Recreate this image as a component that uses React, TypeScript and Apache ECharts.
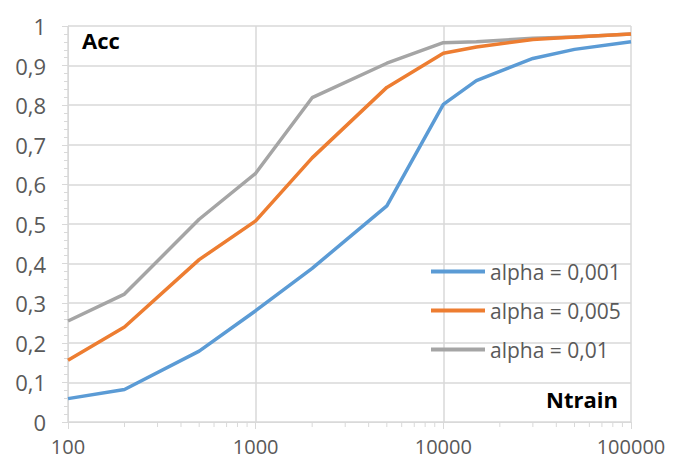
import React, { useEffect, useRef } from "react";
import * as echarts from "echarts";

const nTrain = [100, 200, 500, 1000, 2000, 5000, 10000, 15000, 30000, 50000, 100000];
const acc001 = [0.059, 0.082, 0.179, 0.281, 0.388, 0.546, 0.802, 0.862, 0.918, 0.941, 0.96];
const acc005 = [0.156, 0.24, 0.41, 0.508, 0.667, 0.845, 0.931, 0.947, 0.966, 0.972, 0.98];
const acc01 = [0.255, 0.323, 0.512, 0.628, 0.819, 0.906, 0.958, 0.96, 0.969, 0.972, 0.98];
const seriesNames = ["alpha = 0,001", "alpha = 0,005", "alpha = 0,01"];
const seriesColors = ["#5B9BD5", "#ED7D31", "#A5A5A5"];
const minorXTicks = [
  200, 300, 400, 500, 600, 700, 800, 900,
  2000, 3000, 4000, 5000, 6000, 7000, 8000, 9000,
  20000, 30000, 40000, 50000, 60000, 70000, 80000, 90000,
];

const FONT = "'Open Sans', sans-serif";
const GRIDC = "#d9d9d9";
const TEXTC = "#595959";

export default function App() {
  const ref = useRef<HTMLDivElement>(null);
  useEffect(() => {
    if (!ref.current) return;
    const chart = echarts.init(ref.current, null, { renderer: "svg" });
    const allSeries = [acc001, acc005, acc01];
    chart.setOption({
      animation: false,
      backgroundColor: "#ffffff",
      textStyle: { fontFamily: FONT },
      grid: { left: 68, right: 43, top: 26, bottom: 38 },
      legend: {
        data: seriesNames,
        orient: "vertical",
        left: 431,
        top: 261,
        padding: 0,
        icon: "rect",
        itemWidth: 54,
        itemHeight: 4,
        itemGap: 18,
        textStyle: { fontFamily: FONT, fontSize: 21, color: TEXTC, lineHeight: 21 },
      },
      xAxis: {
        type: "log",
        logBase: 10,
        min: 100,
        max: 100000,
        axisLine: { show: true, lineStyle: { color: GRIDC, width: 1 } },
        axisTick: { show: true, length: 7, lineStyle: { color: GRIDC } },
        splitLine: { show: true, lineStyle: { color: GRIDC, width: 1.5 } },
        axisLabel: {
          color: TEXTC,
          fontSize: 20,
          lineHeight: 20,
          fontFamily: FONT,
          margin: 14,
          formatter: (v: number) => String(Math.round(v)),
        },
      },
      yAxis: {
        type: "value",
        min: 0,
        max: 1,
        interval: 0.1,
        axisLine: { show: true, lineStyle: { color: GRIDC, width: 1 } },
        axisTick: { show: true, length: 6, lineStyle: { color: GRIDC } },
        minorTick: { show: true, splitNumber: 5, length: 4, lineStyle: { color: GRIDC } },
        splitLine: { show: true, lineStyle: { color: GRIDC, width: 1.5 } },
        axisLabel: {
          color: TEXTC,
          fontSize: 22,
          fontFamily: FONT,
          margin: 22,
          formatter: (v: number) => String(+v.toFixed(1)).replace(".", ","),
        },
      },
      series: [
        ...allSeries.map((arr, i) => ({
          name: seriesNames[i],
          type: "line",
          symbol: "none",
          lineStyle: { width: 3.5, color: seriesColors[i] },
          itemStyle: { color: seriesColors[i] },
          data: nTrain.map((x, j) => [x, arr[j]]),
          z: 3 + (2 - i),
        })),
        {
          type: "custom",
          name: "minorTicks",
          silent: true,
          clip: false,
          data: minorXTicks.map((v) => [v, 0]),
          renderItem: (params: any, api: any) => {
            const p = api.coord([api.value(0), 0]);
            return {
              type: "line",
              shape: { x1: p[0], y1: p[1], x2: p[0], y2: p[1] + 5 },
              style: { stroke: GRIDC, lineWidth: 1 },
            };
          },
        },
      ],
      graphic: [
        {
          type: "text",
          left: 82,
          top: 29,
          style: { text: "Acc", fontFamily: FONT, fontSize: 22, fontWeight: "bold", fill: "#000" },
        },
        {
          type: "text",
          right: 56,
          top: 388,
          style: { text: "Ntrain", fontFamily: FONT, fontSize: 22, fontWeight: "bold", fill: "#000" },
        },
      ],
    });
    return () => chart.dispose();
  }, []);
  return (
    <div
      ref={ref}
      style={{ position: "fixed", left: 0, top: 0, width: 674, height: 460 }}
    />
  );
}
